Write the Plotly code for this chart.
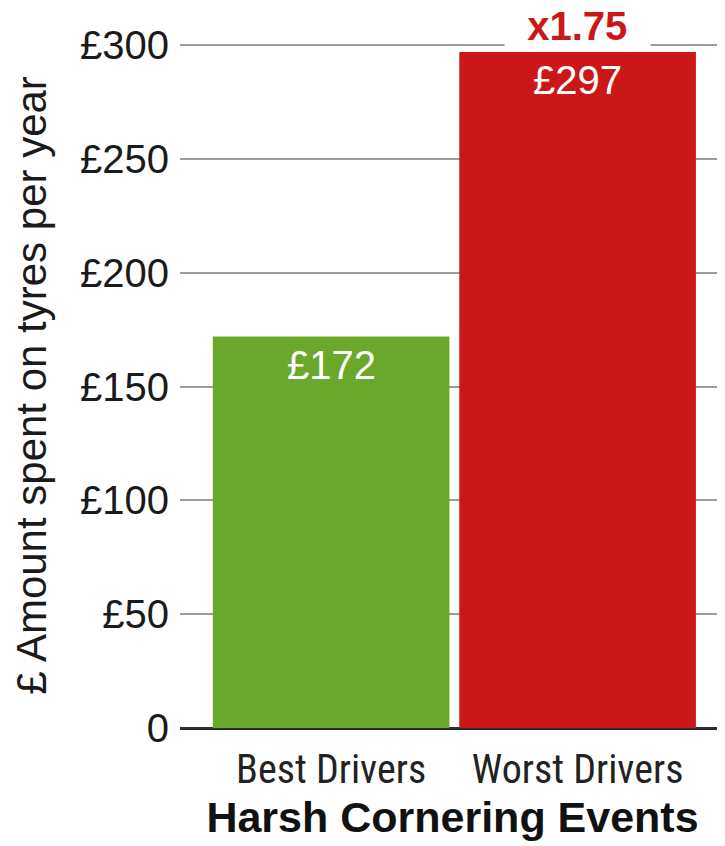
import plotly.graph_objects as go

categories = ["Best Drivers", "Worst Drivers"]
values = [172, 297]
value_labels = ["£172", "£297"]
bar_colors = ["#6aa82b", "#cc1719"]
multiplier_label = "x1.75"
tick_vals = [0, 50, 100, 150, 200, 250, 300]
tick_text = ["0", "£50", "£100", "£150", "£200", "£250", "£300"]
y_title = "£ Amount spent on tyres per year"
x_title = "Harsh Cornering Events"

BASE_FONT = "Liberation Sans, Arial, Helvetica, sans-serif"
NARROW_FONT = "Liberation Sans Narrow, Arial Narrow, Roboto Condensed, Liberation Sans, sans-serif"

# The page body has an 8px margin, so the figure is sized 8px smaller.
fig = go.Figure(
    go.Bar(
        x=categories,
        y=values,
        marker=dict(color=bar_colors, line=dict(width=0)),
        hoverinfo="skip",
    )
)

annotations = []
for cat, val, lab in zip(categories, values, value_labels):
    annotations.append(dict(
        x=cat, y=val, xref="x", yref="y", text=lab, showarrow=False,
        yanchor="top", yshift=-4,
        font=dict(family=BASE_FONT, size=40, color="white"),
    ))

pad = "\u00a0\u00a0"
annotations.append(dict(
    x=categories[1], y=tick_vals[-1], xref="x", yref="y",
    text=pad + "<b>" + multiplier_label + "</b>" + pad,
    showarrow=False, yanchor="middle", yshift=19,
    bgcolor="white", borderpad=0,
    font=dict(family=BASE_FONT, size=40, color="#cc1719"),
))

fig.update_layout(
    width=717, height=838,
    margin=dict(l=172, r=0, t=35, b=118, pad=0),
    paper_bgcolor="white", plot_bgcolor="white",
    bargap=0.04,
    showlegend=False,
    annotations=annotations,
    xaxis=dict(
        type="category",
        range=[-0.613, 1.598],
        showgrid=False, zeroline=False, showline=False,
        ticks="", ticklabelstandoff=14,
        tickfont=dict(family=NARROW_FONT, size=40, color="#222222"),
        title=dict(text="<b>" + x_title + "</b>", standoff=8,
                   font=dict(family=BASE_FONT, size=43, color="#111111")),
        fixedrange=True,
    ),
    yaxis=dict(
        range=[0, 301],
        tickvals=tick_vals, ticktext=tick_text,
        showgrid=True, gridcolor="#9c9c9c", gridwidth=2,
        zeroline=True, zerolinecolor="#2b2b2b", zerolinewidth=3,
        showline=False, ticks="", ticklabelstandoff=10,
        tickfont=dict(family=BASE_FONT, size=40, color="#1a1a1a"),
        title=dict(text=y_title, standoff=22,
                   font=dict(family=BASE_FONT, size=42, color="#1a1a1a")),
        fixedrange=True,
    ),
)

fig.write_html("out.html", config={"displayModeBar": False})
